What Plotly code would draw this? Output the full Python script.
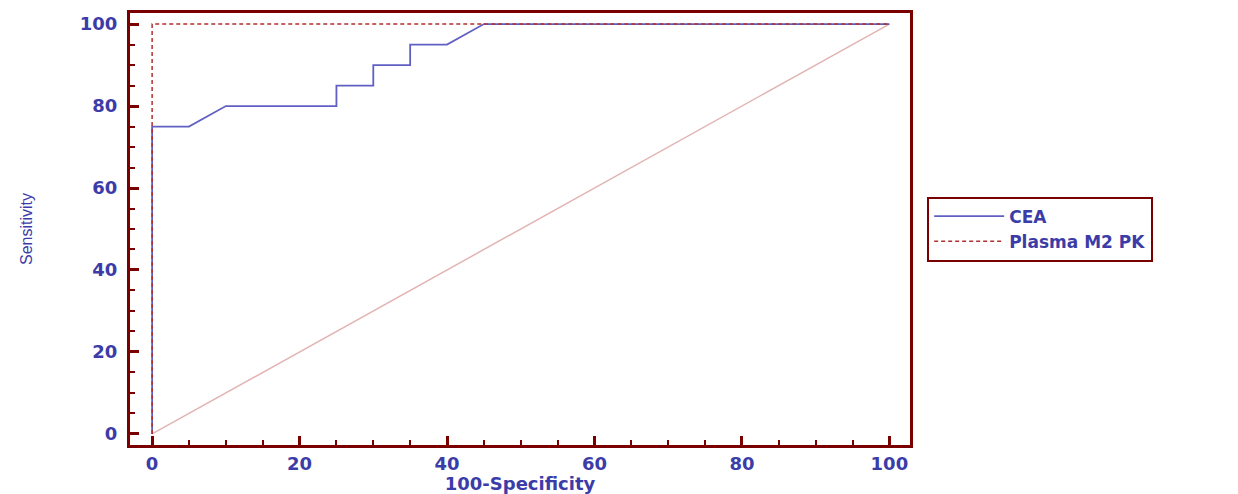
import plotly.graph_objects as go

# CEA ROC curve (100-Specificity, Sensitivity)
cea_x = [0, 0, 5, 10, 25, 25, 30, 30, 35, 35, 40, 45, 100]
cea_y = [0, 75, 75, 80, 80, 85, 85, 90, 90, 95, 95, 100, 100]

# Plasma M2 PK ROC curve
m2pk_x = [0, 0, 100]
m2pk_y = [0, 100, 100]

# Reference diagonal
diag_x = [0, 100]
diag_y = [0, 100]

x_ticks = [0, 20, 40, 60, 80, 100]
y_ticks = [0, 20, 40, 60, 80, 100]

AXIS = "#7a0000"
TEXT = "#3c3ca8"
FONT = "DejaVu Sans, Verdana, sans-serif"
FONT2 = "Liberation Sans, Arial, sans-serif"

fig = go.Figure()
fig.add_trace(go.Scatter(x=diag_x, y=diag_y, mode="lines",
                         line=dict(color="#e2b4b4", width=1.5),
                         showlegend=False, hoverinfo="skip"))
fig.add_trace(go.Scatter(x=cea_x, y=cea_y, mode="lines", name="CEA",
                         line=dict(color="#6060c4", width=1.8)))
fig.add_trace(go.Scatter(x=m2pk_x, y=m2pk_y, mode="lines", name="Plasma M2 PK",
                         line=dict(color="#b03030", width=1.5, dash="4px,3px")))

axis_common = dict(
    showline=True, linecolor=AXIS, linewidth=3, mirror=True,
    ticks="inside", ticklen=9, tickwidth=3, tickcolor=AXIS,
    minor=dict(ticks="inside", ticklen=5, tickwidth=1.5, tickcolor=AXIS, dtick=5),
    showgrid=False, zeroline=False, automargin=False,
    tickfont=dict(family=FONT, size=18, color=TEXT, weight="bold"),
)

fig.update_layout(
    width=1238, height=494,
    margin=dict(l=130, r=328, t=13, b=49),
    plot_bgcolor="white", paper_bgcolor="white",
    xaxis=dict(range=[-3, 102.8], tickvals=x_ticks, ticklabelstandoff=0,
               title=dict(text="100-Specificity", standoff=10,
                          font=dict(family=FONT, size=18, color=TEXT, weight="bold")),
               **axis_common),
    yaxis=dict(range=[-2.7, 102.7], tickvals=y_ticks, ticklabelstandoff=6,
               title=dict(text="Sensitivity", standoff=44,
                          font=dict(family=FONT2, size=16, color=TEXT)),
               **axis_common),
    legend=dict(x=1.022, y=0.5, xanchor="left", yanchor="middle",
                bordercolor=AXIS, borderwidth=2, bgcolor="white",
                font=dict(family=FONT, size=17, color=TEXT, weight="bold"),
                tracegroupgap=0, itemwidth=70),
)

fig.write_html("out.html")
